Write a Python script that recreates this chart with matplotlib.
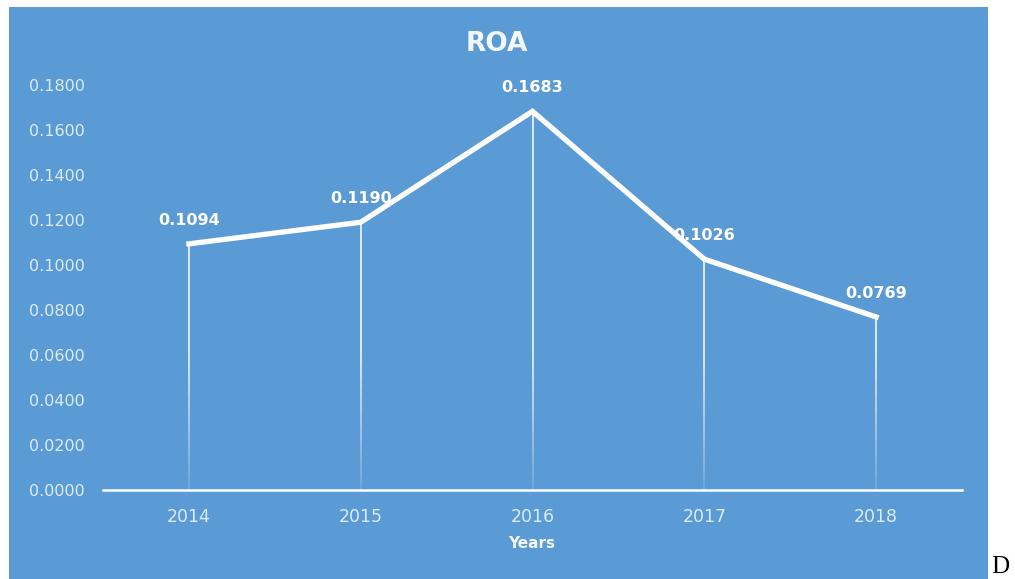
import matplotlib

matplotlib.use("Agg")
import matplotlib.pyplot as plt
import numpy as np
from matplotlib.collections import LineCollection
from matplotlib.patches import Rectangle

years = ["2014", "2015", "2016", "2017", "2018"]
roa = [0.1094, 0.1190, 0.1683, 0.1026, 0.0769]
yticks = [0.0, 0.02, 0.04, 0.06, 0.08, 0.10, 0.12, 0.14, 0.16, 0.18]

BLUE = "#5B9BD5"
TICK = "#DCEBF7"

fig = plt.figure(figsize=(10.15, 5.79), dpi=100)
fig.patch.set_facecolor("white")
# chart area panel (white page margin around it)
fig.patches.append(Rectangle((9 / 1015, 0), 979 / 1015, 572 / 579,
                             transform=fig.transFigure, facecolor=BLUE,
                             edgecolor="none", zorder=-10))

ax = fig.add_axes([103 / 1015, 89 / 579, 859 / 1015, 405 / 579])
ax.set_facecolor("none")
x = np.arange(len(years))

# drop lines from each point to the axis, fading out near the bottom
for xi, yi in zip(x, roa):
    ys = np.linspace(0, yi, 60)
    segs = [[(xi, ys[i]), (xi, ys[i + 1])] for i in range(len(ys) - 1)]
    mids = (ys[:-1] + ys[1:]) / 2
    alphas = np.clip(0.15 + 0.85 * mids / 0.06, 0.15, 1.0)
    cols = [(1, 1, 1, a) for a in alphas]
    ax.add_collection(LineCollection(segs, colors=cols, linewidths=1.1, zorder=2))

ax.plot(x, roa, color="white", lw=3.8, solid_joinstyle="miter", zorder=3)

for xi, yi in zip(x, roa):
    ax.annotate(f"{yi:.4f}", (xi, yi), xytext=(0, 17), textcoords="offset points",
                ha="center", va="center", color="white", fontsize=11.5,
                fontweight="bold", zorder=4)

ax.set_xlim(-0.5, len(years) - 0.5)
ax.set_ylim(0, 0.18)
ax.set_xticks(x)
ax.set_xticklabels(years)
ax.set_yticks(yticks)
ax.set_yticklabels([f"{v:.4f}" for v in yticks])
ax.tick_params(axis="x", length=0, pad=13, labelsize=12.5, labelcolor=TICK)
ax.tick_params(axis="y", length=0, pad=13, labelsize=11.5, labelcolor=TICK)
for s in ["top", "right", "left"]:
    ax.spines[s].set_visible(False)
ax.spines["bottom"].set_color("white")
ax.spines["bottom"].set_linewidth(1.8)

fig.text(497 / 1015, 1 - 44 / 579, "ROA", ha="center", va="center",
         color="#F2F7FC", fontsize=19, fontweight="bold")
fig.text(532 / 1015, 1 - 543 / 579, "Years", ha="center", va="center",
         color="#F2F7FC", fontsize=11, fontweight="bold")
fig.text(1000 / 1015, 1 - 567 / 579, "D", ha="center", va="center",
         color="black", fontsize=18, family="Liberation Serif")

fig.savefig("out.png", dpi=100)
